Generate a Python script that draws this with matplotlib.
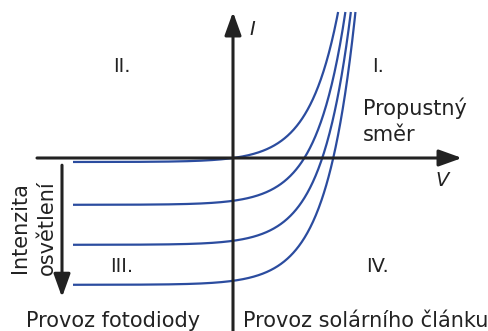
import numpy as np
import matplotlib.pyplot as plt

# diode I-V characteristics under increasing illumination
photo_currents = [0.0, 1.07, 2.07, 3.07]  # light-generated current per curve
sat_current = 0.1                          # dark reverse current
thermal_v = 0.29                           # curve steepness
i_top = 3.65                               # curves end where they leave the plot
v_start = -1.6

quadrants = ["I.", "II.", "III.", "IV."]
quad_pos = [(1.45, 2.28), (-1.11, 2.28), (-1.11, -2.72), (1.45, -2.72)]

ink = "#222222"
blue = "#2b4c9f"
plt.rcParams["font.family"] = ["DejaVu Sans"]

fig = plt.figure(figsize=(4.89, 3.31), dpi=100)
ax = fig.add_axes([0, 0, 1, 1])
ax.set_xlim(-2.33, 2.56)
ax.set_ylim(-4.325, 3.95)
ax.axis("off")

for il in photo_currents:
    v_end = thermal_v * np.log((i_top + il) / sat_current + 1)
    v = np.linspace(v_start, v_end, 600)
    i = sat_current * (np.exp(v / thermal_v) - 1) - il
    ax.plot(v, i, color=blue, lw=1.6, solid_capstyle="butt", zorder=2)

# axes with arrow heads
arrow = dict(arrowstyle="-|>,head_length=1.0,head_width=0.36", lw=2.2,
             color=ink, mutation_scale=14, shrinkA=0, shrinkB=0)
ax.annotate("", xy=(2.29, 0), xytext=(-1.96, 0), arrowprops=arrow, zorder=3)
ax.annotate("", xy=(0, 3.65), xytext=(0, -4.4), arrowprops=arrow, zorder=3)
# illumination direction
ax.annotate("", xy=(-1.71, -3.48), xytext=(-1.71, -0.18), arrowprops=arrow)

ax.text(0.19, 3.22, "I", style="italic", fontsize=14, color=ink,
        ha="center", va="center")
ax.text(2.09, -0.55, "V", style="italic", fontsize=14, color=ink,
        ha="center", va="center")

for label, (x, y) in zip(quadrants, quad_pos):
    ax.text(x, y, label, fontsize=14, color=ink, ha="center", va="center")

ax.text(1.30, 1.07, "Propustný", fontsize=15, color=ink, va="baseline")
ax.text(1.30, 0.43, "směr", fontsize=15, color=ink, va="baseline")

ax.text(-1.195, -4.225, "Provoz fotodiody", fontsize=15, color=ink,
        ha="center", va="baseline")
ax.text(1.33, -4.225, "Provoz solárního článku", fontsize=15, color=ink,
        ha="center", va="baseline")

ax.text(-2.13, -1.74, "Intenzita", fontsize=15, color=ink, rotation=90,
        ha="center", va="center")
ax.text(-1.86, -1.74, "osvětlení", fontsize=15, color=ink, rotation=90,
        ha="center", va="center")

fig.savefig("out.png", dpi=100)
